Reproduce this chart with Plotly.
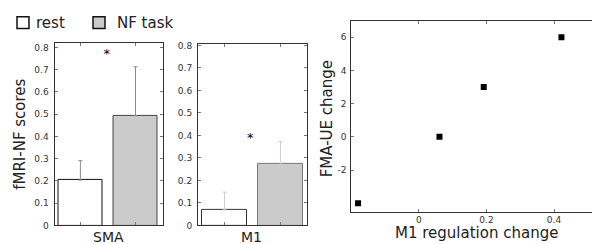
import plotly.graph_objects as go

# ---- data ----
bar_positions = [1, 2]
conditions = ["rest", "NF task"]
sma_values = [0.204, 0.493]
sma_errors = [0.087, 0.220]
m1_values = [0.069, 0.272]
m1_errors = [0.079, 0.101]
sig_y_sma = [0.766]
sig_y_m1 = [0.386]
scatter_x = [-0.18, 0.061, 0.192, 0.422]
scatter_y = [-4.0, 0.0, 3.0, 6.0]
bar_yticks = [0, 0.1, 0.2, 0.3, 0.4, 0.5, 0.6, 0.7, 0.8]
bar_yticklabels = ["0", "0.1", "0.2", "0.3", "0.4", "0.5", "0.6", "0.7", "0.8"]
sc_xticks = [0, 0.2, 0.4]
sc_xticklabels = ["0", "0.2", "0.4"]
sc_yticks = [-2, 0, 2, 4, 6]
sc_yticklabels = ["-2", "0", "2", "4", "6"]

FONT = "DejaVu Sans"
W, H = 600, 244
bar_fill = ["white", "#cbcbcb"]

def px_x(a, b):
    return [a / W, b / W]

def px_y(top, bottom):
    return [1 - bottom / H, 1 - top / H]

fig = go.Figure()

# SMA bars
fig.add_trace(go.Bar(
    x=bar_positions, y=sma_values, width=0.81,
    marker=dict(color=bar_fill, line=dict(color=["#111", "#444"], width=1)),
    error_y=dict(type="data", symmetric=False, array=sma_errors, arrayminus=[0, 0],
                 color="#8a8a8a", thickness=1, width=2),
    xaxis="x", yaxis="y", showlegend=False))
fig.add_trace(go.Scatter(x=[1.48], y=sig_y_sma, mode="text", text=["*"],
                         textfont=dict(family=FONT, size=13, color="#000"),
                         xaxis="x", yaxis="y", showlegend=False))

# M1 bars
fig.add_trace(go.Bar(
    x=bar_positions, y=m1_values, width=0.8,
    marker=dict(color=bar_fill, line=dict(color=["#333", "#777"], width=1)),
    error_y=dict(type="data", symmetric=False, array=m1_errors, arrayminus=[0, 0],
                 color="#cccccc", thickness=1, width=2),
    xaxis="x2", yaxis="y2", showlegend=False))
fig.add_trace(go.Scatter(x=[1.46], y=sig_y_m1, mode="text", text=["*"],
                         textfont=dict(family=FONT, size=13, color="#000"),
                         xaxis="x2", yaxis="y2", showlegend=False))

# scatter
fig.add_trace(go.Scatter(
    x=scatter_x, y=scatter_y, mode="markers",
    marker=dict(symbol="square", size=6, color="black"),
    xaxis="x3", yaxis="y3", showlegend=False))

axis_common = dict(showline=True, linecolor="#333", linewidth=1, mirror="ticks",
                   ticks="inside", ticklen=3, tickcolor="#777",
                   showgrid=False, zeroline=False,
                   tickfont=dict(family=FONT, size=9, color="#333"))

fig.update_layout(
    width=W, height=H, margin=dict(l=0, r=0, t=0, b=0),
    paper_bgcolor="white", plot_bgcolor="white", bargap=0,
    xaxis=dict(domain=px_x(46.5, 154.5), range=[0.53, 2.49], tickvals=bar_positions,
               showticklabels=False, **axis_common),
    yaxis=dict(domain=px_y(33, 221.7), range=[0, 0.82], tickvals=bar_yticks,
               ticktext=bar_yticklabels, ticklabelstandoff=3, **axis_common),
    xaxis2=dict(domain=px_x(190, 299.3), range=[0.525, 2.48], tickvals=bar_positions,
                showticklabels=False, anchor="y2", **axis_common),
    yaxis2=dict(domain=px_y(34, 221.7), range=[0, 0.807], tickvals=bar_yticks,
                ticktext=bar_yticklabels, anchor="x2", ticklabelstandoff=3, **axis_common),
    xaxis3=dict(domain=px_x(343.3, 596.7), range=[-0.2, 0.55], tickvals=sc_xticks,
                ticktext=sc_xticklabels, anchor="y3", **axis_common),
    yaxis3=dict(domain=px_y(10, 207.3), range=[-4.5, 7], tickvals=sc_yticks,
                ticktext=sc_yticklabels, anchor="x3", ticklabelstandoff=2, **axis_common),
)

# axis titles and legend labels
ann = [
    dict(text="fMRI-NF scores", x=12, y=128, textangle=-90, size=15, xanchor="center", yanchor="middle"),
    dict(text="SMA", x=100, y=244, size=14, xanchor="center", yanchor="bottom"),
    dict(text="M1", x=243, y=244, size=14, xanchor="center", yanchor="bottom"),
    dict(text="FMA-UE change", x=319, y=112, textangle=-90, size=15, xanchor="center", yanchor="middle"),
    dict(text="M1 regulation change", x=468, y=230, size=15, xanchor="center", yanchor="middle"),
    dict(text=conditions[0], x=26, y=12, size=15, xanchor="left", yanchor="middle"),
    dict(text=conditions[1], x=107, y=12, size=15, xanchor="left", yanchor="middle"),
]
for a in ann:
    fig.add_annotation(xref="paper", yref="paper", showarrow=False,
                       text=a["text"], x=a["x"] / W, y=1 - a["y"] / H,
                       xanchor=a["xanchor"], yanchor=a["yanchor"],
                       textangle=a.get("textangle", 0),
                       font=dict(family=FONT, size=a["size"], color="#222"))

# legend boxes
fig.add_shape(type="rect", xref="paper", yref="paper", x0=9 / W, x1=21 / W,
              y0=1 - 18 / H, y1=1 - 6 / H, fillcolor=bar_fill[0], line=dict(color="#111", width=1.5))
fig.add_shape(type="rect", xref="paper", yref="paper", x0=85 / W, x1=97 / W,
              y0=1 - 18 / H, y1=1 - 6 / H, fillcolor=bar_fill[1], line=dict(color="#111", width=1.5))

fig.write_html("out.html")
